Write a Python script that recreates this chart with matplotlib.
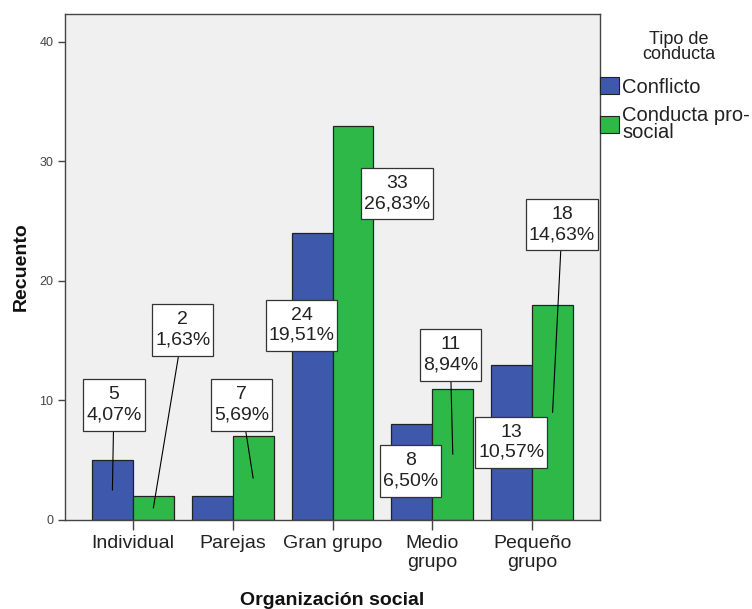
import matplotlib
matplotlib.use("Agg")
import matplotlib.pyplot as plt
import numpy as np
from matplotlib.patches import Patch

plt.rcParams['font.family'] = ['Liberation Sans', 'DejaVu Sans']

categories = ["Individual", "Parejas", "Gran grupo", "Medio\ngrupo", "Pequeño\ngrupo"]
series_names = ["Conflicto", "Conducta pro-\nsocial"]
conflicto = [5, 2, 24, 8, 13]
prosocial = [2, 7, 33, 11, 18]
pct_conflicto = ["4,07%", "1,63%", "19,51%", "6,50%", "10,57%"]
pct_prosocial = ["1,63%", "5,69%", "26,83%", "8,94%", "14,63%"]

blue = "#3E58AC"
green = "#2EB848"

fig = plt.figure(figsize=(7.52, 6.09), dpi=100)
W, H = 752, 609
ax = fig.add_axes([65 / W, (H - 520) / H, 535 / W, (520 - 14) / H])
ax.set_facecolor("#F0F0F0")

x = np.arange(len(categories))
bw = 0.41
ax.bar(x - bw / 2, conflicto, bw, color=blue, edgecolor="#222222", linewidth=0.9, zorder=2)
ax.bar(x + bw / 2, prosocial, bw, color=green, edgecolor="#222222", linewidth=0.9, zorder=2)

ax.set_xlim(-0.68, 4.68)
ax.set_ylim(0, 42.34)
ax.set_yticks([0, 10, 20, 30, 40])
ax.set_xticks(x)
ax.set_xticklabels(categories, fontsize=14, color="#222222", linespacing=1.1)
ax.tick_params(axis='y', labelsize=9, colors="#444444", length=5, width=1, direction='out')
ax.tick_params(axis='x', length=7, width=1, direction='out', colors="#444444", pad=4)
for lbl in ax.get_xticklabels():
    lbl.set_color("#222222")
for s in ax.spines.values():
    s.set_color("#444444")
    s.set_linewidth(1)

ax.set_ylabel("Recuento", fontsize=14, fontweight='bold', color="#111111")
ax.yaxis.set_label_coords(-0.065, 0.5)
ax.set_xlabel("Organización social", fontsize=14, fontweight='bold', color="#111111")
ax.xaxis.set_label_coords(0.5, -0.142)

# label layout: (series, category) -> text center (data coords), draw leader line
label_layout = {
    (0, 0): ((-0.19, 9.62), True),
    (1, 0): ((0.50, 15.9), True),
    (1, 1): ((1.09, 9.62), True),
    (0, 2): ((1.69, 16.3), False),
    (1, 2): ((2.65, 27.3), False),
    (0, 3): ((2.78, 4.1), False),
    (1, 3): ((3.18, 13.8), True),
    (0, 4): ((3.79, 6.5), False),
    (1, 4): ((4.30, 24.7), True),
}

vals = [conflicto, prosocial]
pcts = [pct_conflicto, pct_prosocial]
for (s, c), ((tx, ty), leader) in label_layout.items():
    v = vals[s][c]
    bx = x[c] + (-bw / 2 if s == 0 else bw / 2)
    txt = f"{v}\n{pcts[s][c]}"
    kw = dict(arrowprops=dict(arrowstyle='-', color='black', lw=0.8, shrinkA=0, shrinkB=0)) if leader else {}
    ax.annotate(txt, xy=(bx, v / 2), xytext=(tx, ty), textcoords='data',
                ha='center', va='center', fontsize=14, color="#222222", linespacing=1.25,
                bbox=dict(boxstyle='square,pad=0.15', mutation_aspect=2.4,
                          fc='white', ec='#333333', lw=0.9),
                zorder=5, **kw)

fig.text(679 / W, 1 - 47 / H, "Tipo de\nconducta", ha='center', va='center',
         fontsize=13, color="#222222", linespacing=0.88)

handles = [Patch(facecolor=blue, edgecolor="#222222", lw=0.8),
           Patch(facecolor=green, edgecolor="#222222", lw=0.8)]
leg = fig.legend(handles, series_names, loc='upper left', bbox_to_anchor=(600 / W, 1 - 77 / H),
                 frameon=False, fontsize=14.5,
                 handlelength=0.95, handleheight=0.95, handletextpad=0.15, borderpad=0,
                 labelspacing=0.45, borderaxespad=0)
for t in leg.get_texts():
    t.set_color("#222222")
    t.set_linespacing(0.88)

fig.savefig("out.png", dpi=100, facecolor="white")
